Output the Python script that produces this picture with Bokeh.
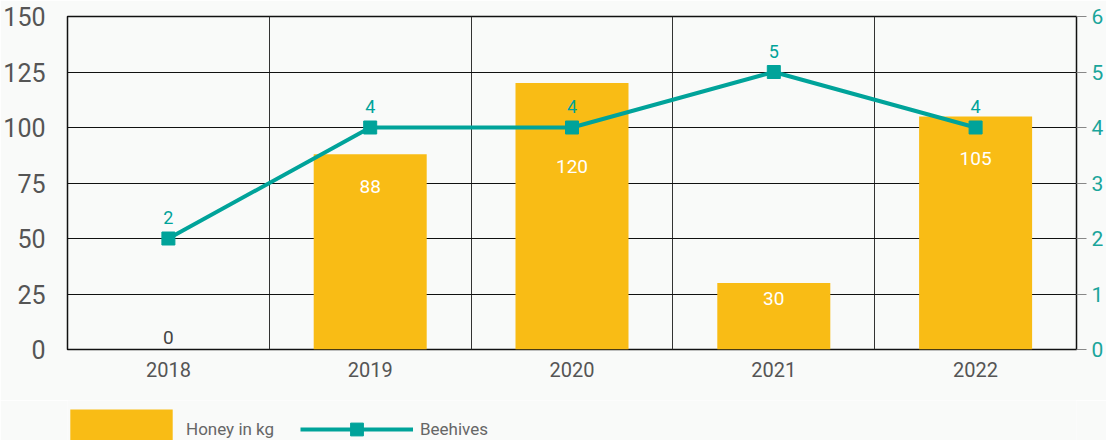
from bokeh.plotting import figure
from bokeh.models import (ColumnDataSource, Range1d, LinearAxis, FixedTicker,
                          SingleIntervalTicker, Legend, LegendItem)
from bokeh.layouts import column
from bokeh.core.properties import value
from bokeh.embed import file_html
from bokeh.resources import INLINE

# ---- data ----
years = ["2018", "2019", "2020", "2021", "2022"]
honey_kg = [0, 88, 120, 30, 105]
beehives = [2, 4, 4, 5, 4]

# label styling (pixel offsets of the value labels, colours)
honey_label_offset = [-12, 32, 83, 16, 42]
honey_label_color = ["#444444", "white", "white", "white", "white"]

YELLOW = "#f9bc15"
TEAL = "#00a39a"
BG = "#f9faf9"
FONT = "Roboto"

idx = list(range(len(years)))
src = ColumnDataSource(dict(
    x=idx, honey=honey_kg, hives=beehives,
    hl=[str(v) for v in honey_kg], bl=[str(v) for v in beehives],
    hoff=honey_label_offset, hcol=honey_label_color,
))

p = figure(width=1106, height=400, output_backend="svg", toolbar_location=None,
           x_range=Range1d(-0.5, len(years) - 0.5), y_range=Range1d(0, 150),
           min_border_left=66, min_border_right=28, min_border_top=16,
           min_border_bottom=51)
p.background_fill_color = BG
p.border_fill_color = BG
p.outline_line_color = "#111111"
p.outline_line_width = 1.5
p.extra_y_ranges = {"hives": Range1d(0, 6)}

# axes
p.yaxis.ticker = SingleIntervalTicker(interval=25)
p.yaxis.axis_line_color = None
p.yaxis.major_tick_line_color = None
p.yaxis.minor_tick_line_color = None
p.yaxis.major_label_standoff = 16
p.yaxis.major_label_text_font = FONT
p.yaxis.major_label_text_font_size = "25px"
p.yaxis.major_label_text_color = "#555555"

p.xaxis.ticker = FixedTicker(ticks=idx)
p.xaxis.major_label_overrides = {i: y for i, y in zip(idx, years)}
p.xaxis.axis_line_color = None
p.xaxis.major_tick_line_color = None
p.xaxis.minor_tick_line_color = None
p.xaxis.major_label_standoff = 6
p.xaxis.major_label_text_font = FONT
p.xaxis.major_label_text_font_size = "20px"
p.xaxis.major_label_text_color = "#555555"

ra = LinearAxis(y_range_name="hives", ticker=FixedTicker(ticks=list(range(0, 7))))
ra.axis_line_color = None
ra.major_tick_line_color = "#888888"
ra.major_tick_out = 10
ra.major_tick_in = 0
ra.minor_tick_line_color = None
ra.major_label_standoff = 5
ra.major_label_text_font = FONT
ra.major_label_text_font_size = "21px"
ra.major_label_text_color = "#1aa59b"
p.add_layout(ra, "right")

# grids
p.ygrid.ticker = SingleIntervalTicker(interval=25)
p.ygrid.grid_line_color = "#111111"
p.ygrid.grid_line_width = 1.2
p.xgrid.ticker = FixedTicker(ticks=[i + 0.5 for i in idx[:-1]])
p.xgrid.grid_line_color = "#333333"
p.xgrid.grid_line_width = 1

# bars
p.vbar(x="x", top="honey", width=0.56, source=src, fill_color=YELLOW, line_color=None)
p.text(x="x", y="honey", text="hl", source=src, y_offset="hoff",
       text_align="center", text_baseline="middle", text_color="hcol",
       text_font=value(FONT), text_font_size="19px")

# line
p.line(x="x", y="hives", source=src, y_range_name="hives", line_color=TEAL, line_width=4)
p.scatter(x="x", y="hives", source=src, y_range_name="hives", marker="square",
          size=13, fill_color=TEAL, line_color=TEAL)
p.text(x="x", y="hives", text="bl", source=src, y_range_name="hives", y_offset=-21,
       text_align="center", text_baseline="middle", text_color=TEAL,
       text_font=value(FONT), text_font_size="18px")

# ---- legend strip below the chart ----
lg = figure(width=1106, height=40, output_backend="svg", toolbar_location=None,
            x_axis_type=None, y_axis_type=None, min_border=0,
            x_range=Range1d(-0.5, len(years) - 0.5), y_range=Range1d(0, 150))
lg.background_fill_color = BG
lg.border_fill_color = BG
lg.outline_line_color = None
lg.xgrid.visible = False
lg.ygrid.visible = False
b2 = lg.vbar(x="x", top="honey", width=0.56, source=src, fill_color=YELLOW,
             line_color=None, visible=False)
l2 = lg.line(x="x", y="hives", source=src, line_color=TEAL, line_width=4, visible=False)
m2 = lg.scatter(x="x", y="hives", source=src, marker="square", size=13,
                fill_color=TEAL, line_color=TEAL, visible=False)

common = dict(orientation="horizontal", padding=0, margin=0,
              background_fill_alpha=0, border_line_color=None,
              inactive_fill_alpha=0, label_text_font=FONT,
              label_text_font_size="17px", label_text_color="#666666")
legend1 = Legend(items=[LegendItem(label="Honey in kg", renderers=[b2])],
                 location=(-10, -14), glyph_width=128, glyph_height=50,
                 label_standoff=1, **common)
legend2 = Legend(items=[LegendItem(label="Beehives", renderers=[l2, m2])],
                 location=(233, -5), glyph_width=113, glyph_height=32,
                 label_standoff=7, **common)
lg.add_layout(legend1, "center")
lg.add_layout(legend2, "center")

open("out.html", "w").write(file_html(column(p, lg, spacing=0), INLINE))
